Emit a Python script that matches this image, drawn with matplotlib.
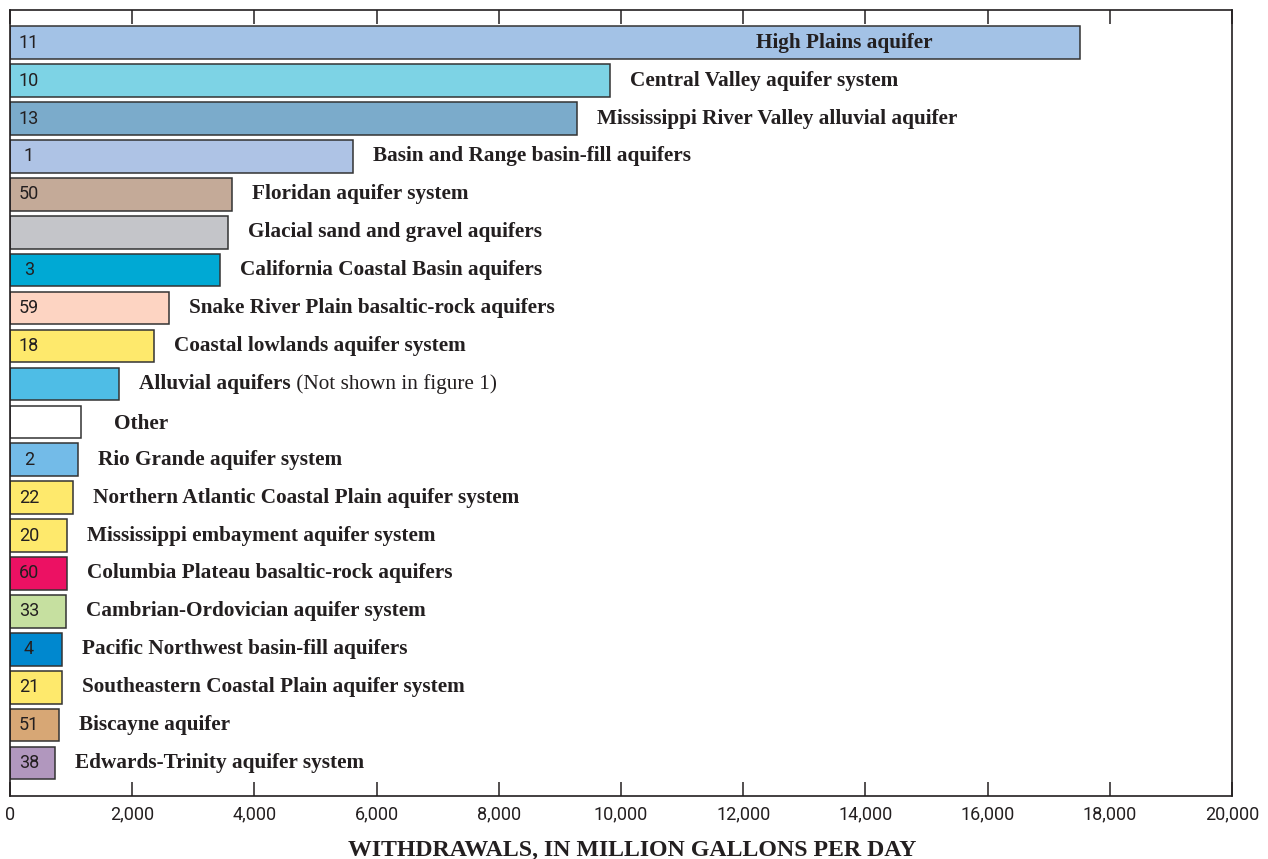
import matplotlib
matplotlib.use("Agg")
import matplotlib.pyplot as plt
from matplotlib.ticker import FuncFormatter

# Withdrawals by principal aquifer, million gallons per day
aquifers = [
    "High Plains aquifer",
    "Central Valley aquifer system",
    "Mississippi River Valley alluvial aquifer",
    "Basin and Range basin-fill aquifers",
    "Floridan aquifer system",
    "Glacial sand and gravel aquifers",
    "California Coastal Basin aquifers",
    "Snake River Plain basaltic-rock aquifers",
    "Coastal lowlands aquifer system",
    "Alluvial aquifers",
    "Other",
    "Rio Grande aquifer system",
    "Northern Atlantic Coastal Plain aquifer system",
    "Mississippi embayment aquifer system",
    "Columbia Plateau basaltic-rock aquifers",
    "Cambrian-Ordovician aquifer system",
    "Pacific Northwest basin-fill aquifers",
    "Southeastern Coastal Plain aquifer system",
    "Biscayne aquifer",
    "Edwards-Trinity aquifer system",
]
withdrawals = [17510, 9820, 9280, 5610, 3630, 3560, 3440, 2610, 2360, 1790,
               1160, 1110, 1030, 940, 925, 920, 855, 850, 805, 735]
map_numbers = ["11", "10", "13", "1", "50", "", "3", "59", "18", "",
               "", "2", "22", "20", "60", "33", "4", "21", "51", "38"]
colors = ["#A3C2E6", "#7DD3E5", "#7BABCB", "#AEC3E5", "#C4AA98", "#C4C5C9",
          "#00A9D4", "#FDD4C2", "#FEE96C", "#4EBDE6", "#FFFFFF", "#73BBE8",
          "#FEE96C", "#FEE96C", "#EC1163", "#C6E0A0", "#0088CF", "#FEE96C",
          "#D7A775", "#B197BE"]
note = " (Not shown in figure 1)"

ink = "#231F20"
sans = ["Roboto", "DejaVu Sans"]
serif = ["Liberation Serif", "DejaVu Serif"]

fig = plt.figure(figsize=(12.68, 8.59), dpi=100)
ax = fig.add_axes([0.0079, 0.0733, 0.9637, 0.9154])

pos = list(range(len(aquifers)))
ax.barh(pos, withdrawals, height=0.86, color=colors,
        edgecolor="#333333", linewidth=1.1, zorder=2)

for i, (name, val, num) in enumerate(zip(aquifers, withdrawals, map_numbers)):
    if num:
        ax.text(310, i, num, ha="center", va="center", family=sans,
                fontsize=13, color=ink, zorder=3)
    if i == 0:
        # longest bar carries its label inside
        t = ax.annotate(name, xy=(val, i), xytext=(-106, 0),
                        textcoords="offset points", ha="right", va="center",
                        family=serif, weight="bold", fontsize=15.3, color=ink)
    else:
        off = 24 if name == "Other" else 14.4
        dy = -1.5 if name == "Other" else 0
        t = ax.annotate(name, xy=(val, i), xytext=(off, dy),
                        textcoords="offset points", ha="left", va="center",
                        family=serif, weight="bold", fontsize=15.3, color=ink)
    if name == "Alluvial aquifers":
        ax.annotate(note, xy=(1, 0.5), xycoords=t, ha="left", va="center",
                    family=serif, fontsize=15.3, color=ink)

ax.set_ylim(len(aquifers) - 1 + 0.87, -0.87)
ax.set_yticks([])
ax.set_xlim(0, 20000)
ax.set_xticks(range(0, 20001, 2000))
ax.xaxis.set_major_formatter(FuncFormatter(lambda v, p: f"{int(v):,}"))
ax.tick_params(axis="x", direction="in", length=10, width=1.1, top=True,
               labeltop=False, pad=7, colors=ink)
for lab in ax.get_xticklabels():
    lab.set_family(sans)
    lab.set_fontsize(13)
for sp in ax.spines.values():
    sp.set_linewidth(1.2)
    sp.set_color(ink)

ax.set_xlabel("WITHDRAWALS, IN MILLION GALLONS PER DAY", family=serif,
              weight="bold", fontsize=17.2, color=ink, va="center")
ax.xaxis.set_label_coords(0.509, -0.0695)

fig.savefig("out.png", dpi=100)
